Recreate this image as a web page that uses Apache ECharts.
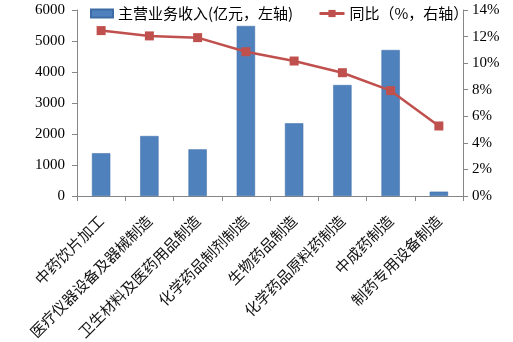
<!DOCTYPE html>
<html><head><meta charset="utf-8">
<script src="https://cdn.jsdelivr.net/npm/echarts@6/dist/echarts.min.js"></script>
<style>html,body{margin:0;padding:0;background:#fff}#c{width:513px;height:342px}</style>
</head><body><div id="c"></div>
<script>
const categories = ['中药饮片加工','医疗仪器设备及器械制造','卫生材料及医药用品制造','化学药品制剂制造','生物药品制造','化学药品原料药制造','中成药制造','制药专用设备制造'];
const revenue = [1380, 1935, 1505, 5485, 2345, 3580, 4710, 140];
const yoy = [12.45, 12.05, 11.92, 10.86, 10.16, 9.28, 7.93, 5.27];
const leftTicks = [0, 1000, 2000, 3000, 4000, 5000, 6000];
const rightTicks = [0, 2, 4, 6, 8, 10, 12, 14];
const barName = '主营业务收入(亿元，左轴)';
const lineName = '同比（%，右轴）';

const chart = echarts.init(document.getElementById('c'));
const axisLine = {show: true, lineStyle: {color: '#868686', width: 1}};
const numFont = {fontFamily: 'Liberation Serif', fontSize: 15, color: '#000'};
chart.setOption({
  animation: false,
  grid: {left: 77, right: 50, top: 10, bottom: 146, containLabel: false, outerBoundsMode: 'none'},
  legend: [
    {left: 85, top: 1, itemWidth: 22, itemHeight: 8, data: [{name: barName, icon: 'rect'}],
     textStyle: {fontFamily: 'Noto Sans CJK SC', fontSize: 15, color: '#000'}},
    {left: 313, top: 1, itemWidth: 25, itemHeight: 9, data: [lineName],
     lineStyle: {width: 3},
     textStyle: {fontFamily: 'Noto Sans CJK SC', fontSize: 15, color: '#000'}}
  ],
  xAxis: {
    type: 'category', data: categories,
    axisLine: axisLine,
    axisTick: {show: true, alignWithLabel: false, length: 5, lineStyle: {color: '#868686'}},
    axisLabel: {rotate: 45, interval: 0, margin: 22, fontFamily: 'Noto Sans CJK SC', fontSize: 15, color: '#111'}
  },
  yAxis: [
    {type: 'value', min: leftTicks[0], max: leftTicks[leftTicks.length-1], interval: 1000,
     axisLine: axisLine, axisTick: {show: true, length: 5, lineStyle: {color: '#868686'}},
     splitLine: {show: false}, axisLabel: Object.assign({margin: 12, formatter: v => String(v)}, numFont)},
    {type: 'value', min: rightTicks[0], max: rightTicks[rightTicks.length-1], interval: 2, position: 'right',
     axisLine: axisLine, axisTick: {show: true, length: 5, lineStyle: {color: '#868686'}},
     splitLine: {show: false}, axisLabel: Object.assign({margin: 9, formatter: '{value}%'}, numFont)}
  ],
  series: [
    {name: barName, type: 'bar', data: revenue, barWidth: '38%', yAxisIndex: 0,
     itemStyle: {color: '#4F81BD', borderColor: '#3E6DA6', borderWidth: 0.5}},
    {name: lineName, type: 'line', data: yoy, yAxisIndex: 1, symbol: 'rect', symbolSize: 9,
     lineStyle: {color: '#C0504D', width: 2.5}, itemStyle: {color: '#C0504D'}}
  ]
});
</script></body></html>
